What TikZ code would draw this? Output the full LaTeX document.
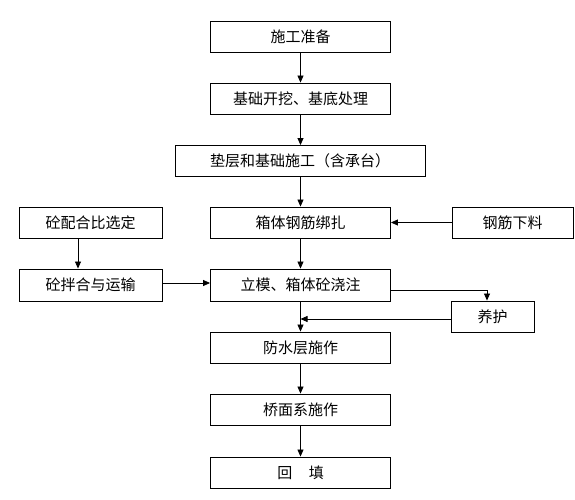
\documentclass[tikz,border=0pt]{standalone}
\usepackage{fontspec}
\setmainfont{Noto Sans CJK SC}
\usetikzlibrary{arrows.meta}
\begin{document}
\begin{tikzpicture}[x=1pt,y=-1pt,
  box/.style={draw, line width=0.9pt, inner sep=0pt, minimum height=31pt, font=\fontsize{15}{15}\selectfont},
  arr/.style={line width=0.8pt, -{Triangle[length=7pt,width=6pt]}},
  ln/.style={line width=0.8pt}]
\useasboundingbox (0,0) rectangle (575,500);
\node[box, minimum width=180pt] (b1) at (300.5,36.5) {施工准备};
\node[box, minimum width=180pt] (b2) at (300.5,98.5) {基础开挖、基底处理};
\node[box, minimum width=250pt] (b3) at (300,161) {垫层和基础施工（含承台）};
\node[box, minimum width=180pt] (b4) at (300.5,222.5) {箱体钢筋绑扎};
\node[box, minimum width=121pt] (b5) at (512.5,222.5) {钢筋下料};
\node[box, minimum width=143pt] (b6) at (90.5,222.5) {砼配合比选定};
\node[box, minimum width=143pt, minimum height=32pt] (b7) at (90.5,285) {砼拌合与运输};
\node[box, minimum width=180pt, minimum height=32pt] (b8) at (300.5,285) {立模、箱体砼浇注};
\node[box, minimum width=83pt] (b9) at (492.5,316.5) {养护};
\node[box, minimum width=180pt] (b10) at (300.5,347.5) {防水层施作};
\node[box, minimum width=180pt] (b11) at (300.5,409.5) {桥面系施作};
\node[box, minimum width=180pt] (b12) at (300.5,472.5) {回\hspace{1.1em}填};
\draw[arr] (b1) -- (b2);
\draw[arr] (b2) -- (b2 |- b3.north);
\draw[arr] (b3.south -| b4) -- (b4);
\draw[arr] (b4) -- (b8);
\draw[arr] (b8) -- (b10);
\draw[arr] (b10) -- (b11);
\draw[arr] (b11) -- (b12);
\draw[arr] (b5) -- (b4);
\draw[arr] ([xshift=-12.5pt]b6.south) -- ([xshift=-12.5pt]b6.south |- b7.north);
\draw[arr] ([yshift=2pt]b7.east) -- ([yshift=2pt]b8.west);
\draw[arr] ([yshift=-5pt]b8.east) -| ([xshift=-5.5pt]b9.north);
\draw[arr] ([yshift=-2.5pt]b9.west) -- ([yshift=-2.5pt]b9.west -| b8.south);
\end{tikzpicture}
\end{document}
